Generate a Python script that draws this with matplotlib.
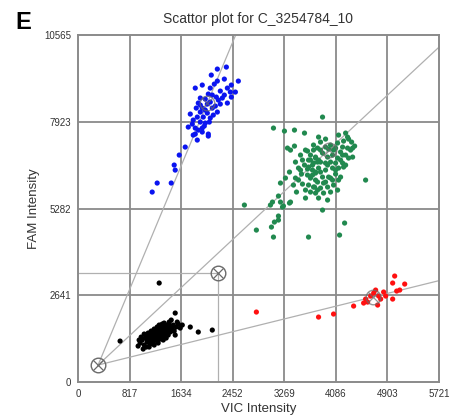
import matplotlib
matplotlib.use("Agg")
import matplotlib.pyplot as plt
import numpy as np

plt.rcParams['font.family'] = ['Liberation Sans', 'DejaVu Sans']

title = "Scattor plot for C_3254784_10"
x_label = "VIC Intensity"
y_label = "FAM Intensity"
panel_letter = "E"
x_ticks = [0, 817, 1634, 2452, 3269, 4086, 4903, 5721]
y_ticks = [0, 2641, 5282, 7923, 10565]

blue_x = [2352, 2209, 2113, 2542, 2320, 2209, 2161, 1970, 1859, 2431, 2368, 2097, 2256, 2415, 2495,
          2066, 2193, 2431, 1939, 2018, 2097, 1907, 2050, 2368, 2288, 1875, 1970, 2129, 2209, 1939,
          2050, 1780, 1891, 1986, 2097, 1827, 1939, 2018, 1748, 1859, 1970, 2066, 1859, 2177, 2256,
          1827, 1970, 2066, 1891, 1700, 1605, 1525, 1541, 1255, 1478, 1176,
          2018, 2129, 1939, 2225, 1812, 2002, 2145, 2320, 1907, 2082]
blue_y = [9592, 9531, 9348, 9165, 9226, 9165, 9074, 9044, 8952, 9044, 8952, 8952, 8861, 8831, 8831,
          8770, 8678, 8678, 8648, 8617, 8526, 8496, 8465, 8496, 8648, 8343, 8343, 8343, 8222, 8222,
          8191, 8161, 8069, 8069, 8039, 7978, 7917, 7887, 7765, 7734, 7734, 7552, 7552, 8404, 8465,
          7521, 7613, 7491, 7369, 7156, 6912, 6608, 6455, 6060, 6060, 5786,
          8282, 8739, 8435, 8587, 7856, 7795, 8130, 8739, 7673, 7917]

green_x = [3099, 3273, 3432, 3591, 3321, 3369, 3432, 3639, 3734, 3798, 3686, 3766, 3448, 3559, 3591,
           3655, 3734, 3798, 3496, 3639, 3718, 3766, 3353, 3543, 3639, 3448, 3686, 3766, 3289, 3416,
           3559, 3655, 3750, 3686, 3798, 3607, 3210, 3178, 3369, 3210, 3083, 3242, 2638, 3051, 3257,
           3877, 4243, 4274, 4290, 4338, 4386, 4211, 4116, 3814, 3845, 3925, 3734, 3973, 4084, 4195,
           4274, 4354, 4163, 4243, 4354, 3877, 3957, 4036, 4116, 3766, 3845, 3925, 4004, 4084, 4195,
           3718, 3814, 3925, 4036, 4131, 4211, 3766, 3877, 3973, 4084, 4163, 3798, 3925, 4036, 4131,
           3734, 3845, 3957, 4052, 3766, 3893, 4004, 3814, 3957, 4560, 3877, 3353, 3178, 3114, 3067,
           2828, 3099, 3655, 4227, 4147, 3178,
           3607, 3528, 3686, 3845, 4004, 3957, 4084, 4243, 4163, 4290, 4004, 3845, 3607, 3496, 3925,
           4052, 3718, 3814, 4195, 3655, 4322, 4131, 3528, 3893, 3464, 4116]
green_y = [7734, 7643, 7673, 7582, 7125, 7064, 7186, 7034, 7064, 7125, 6912, 6851, 6699, 6760, 6608,
           6547, 6669, 6699, 6516, 6486, 6455, 6395, 6395, 6334, 6303, 6212, 6212, 6151, 6212, 5999,
           6029, 5999, 5938, 5786, 5846, 5603, 6060, 5664, 5481, 5481, 5481, 5329, 5390, 5390, 5359,
           8069, 7582, 7460, 7399, 7308, 7186, 7338, 7278, 7460, 7308, 7156, 7217, 7095, 7125, 7156,
           7125, 7125, 7004, 6912, 6851, 6973, 6851, 6912, 6821, 6821, 6699, 6669, 6699, 6669, 6669,
           6608, 6516, 6455, 6516, 6516, 6547, 6364, 6242, 6242, 6334, 6242, 6090, 6090, 6151, 6151,
           5938, 5907, 5938, 5999, 5755, 5755, 5786, 5603, 5542, 6151, 5237, 5451, 5055, 4872, 4720,
           4628, 4415, 4415, 4842, 4476, 4933,
           7064, 6912, 6760, 7064, 7217, 6608, 6455, 6608, 6760, 6821, 6212, 6395, 5846, 6151, 7399,
           7064, 6303, 6760, 6912, 6760, 7064, 7521, 6455, 6060, 5786, 5846]

black_x = [953, 985, 1017, 1049, 1065, 1096, 1112, 1144, 1144, 1176, 1176, 1192, 1224, 1224, 1239,
           1255, 1271, 1287, 1303, 1303, 1319, 1335, 1351, 1366, 1382, 1382, 1398, 1414, 1430, 1430,
           1462, 1462, 1494, 1510, 1525, 1557, 1589, 1621, 1653, 1033, 1081, 1128, 1160, 1208, 1255,
           1287, 1335, 1366, 1414, 1446, 1478, 1541, 1271, 1208, 1112, 1081, 1049, 1001, 969, 1351,
           1190, 1250, 1320, 1280, 1360, 1400, 1230, 1160, 1100, 1300, 1340, 1440, 1260, 1200, 1130,
           1420, 1380, 1310, 1270, 1220,
           1287, 667, 1780, 1907, 2129, 1541, 1478, 1573]
black_y = [1096, 1188, 1279, 1127, 1340, 1218, 1401, 1279, 1157, 1462, 1340, 1218, 1553, 1401, 1279,
           1492, 1370, 1583, 1462, 1309, 1644, 1523, 1401, 1583, 1675, 1462, 1340, 1553, 1644, 1431,
           1705, 1523, 1614, 1736, 1553, 1675, 1766, 1644, 1736, 1005, 1066, 1066, 1553, 1614, 1675,
           1736, 1766, 1797, 1736, 1827, 1553, 1431, 1188, 1127, 1492, 1431, 1462, 1370, 1279, 1279,
           1500, 1420, 1500, 1600, 1520, 1600, 1330, 1380, 1300, 1400, 1620, 1580, 1250, 1450, 1200,
           1700, 1560, 1550, 1480, 1500,
           3015, 1248, 1675, 1523, 1583, 2101, 1888, 1827]

red_x = [2828, 3814, 4052, 4370, 4529, 4592, 4560, 4719, 4767, 4751, 4846, 4688, 4989, 4989, 5021,
         5180, 5053, 5101, 4799, 4640, 4878]
red_y = [2132, 1979, 2071, 2314, 2406, 2436, 2527, 2801, 2619, 2345, 2741, 2710, 2527, 3015, 3228,
         2984, 2771, 2801, 2527, 2619, 2619]

# circled-X cluster centres: origin (no template), middle, red, green, blue
origin_pt = (318, 518)
ntc_pt = (2225, 3319)
center_x = [4672, 3973, 2050]
center_y = [2588, 7064, 8496]

fig = plt.figure(figsize=(4.51, 4.18), dpi=100)
ax = fig.add_axes([0.173, 0.086, 0.800, 0.830])
xmax, ymax = x_ticks[-1], y_ticks[-1]
ax.set_xlim(0, xmax)
ax.set_ylim(0, ymax)

grid_c = '#8a8a8a'
for xt in x_ticks[1:-1]:
    ax.axvline(xt, color=grid_c, lw=1.3, zorder=1)
for yt in y_ticks[1:-1]:
    ax.axhline(yt, color=grid_c, lw=1.3, zorder=1)

line_c = '#b0b0b0'
ox, oy = origin_pt
for cx, cy in zip(center_x, center_y):
    dx, dy = cx - ox, cy - oy
    t = min((xmax - ox) / dx if dx > 0 else np.inf, (ymax - oy) / dy if dy > 0 else np.inf)
    ax.plot([ox, ox + t * dx], [oy, oy + t * dy], color=line_c, lw=0.9, zorder=2)

ax.plot([0, ntc_pt[0]], [ntc_pt[1], ntc_pt[1]], color=line_c, lw=0.9, zorder=2)
ax.plot([ntc_pt[0], ntc_pt[0]], [0, ntc_pt[1]], color=line_c, lw=0.9, zorder=2)

dot = 14
ax.scatter(blue_x, blue_y, s=dot, c='#0a14f0', edgecolors='none', zorder=3)
ax.scatter(green_x, green_y, s=dot, c='#21894f', edgecolors='none', zorder=3)
ax.scatter(black_x, black_y, s=dot, c='#000000', edgecolors='none', zorder=3)
ax.scatter(red_x, red_y, s=dot, c='#ff1010', edgecolors='none', zorder=3)

mk_c = '#6a6a6a'
for (px, py), alpha in [(origin_pt, 1.0), (ntc_pt, 1.0)] + [((a, b), 0.7) for a, b in zip(center_x, center_y)]:
    ax.plot(px, py, marker='o', ms=10.5, mfc='none', mec=mk_c, mew=1.0, alpha=alpha, zorder=4)
    ax.plot(px, py, marker='x', ms=6.5, mec=mk_c, mew=0.9, alpha=alpha, zorder=4)

for sp in ax.spines.values():
    sp.set_color('#8a8a8a')
    sp.set_linewidth(1.4)

ax.set_xticks(x_ticks)
ax.set_yticks(y_ticks)
ax.set_xticklabels([str(v) for v in x_ticks])
ax.set_yticklabels([str(v) for v in y_ticks])
ax.tick_params(length=0, labelsize=7, colors='#333333', pad=5)

ax.set_xlabel(x_label, fontsize=9.5, color='#333333', labelpad=3)
ax.set_ylabel(y_label, fontsize=9.5, color='#333333', labelpad=3)
ax.set_title(title, fontsize=10, color='#333333', pad=9)
fig.text(0.035, 0.945, panel_letter, fontsize=17, fontweight='bold', ha='left', va='center')

fig.savefig("out.png", dpi=100)
